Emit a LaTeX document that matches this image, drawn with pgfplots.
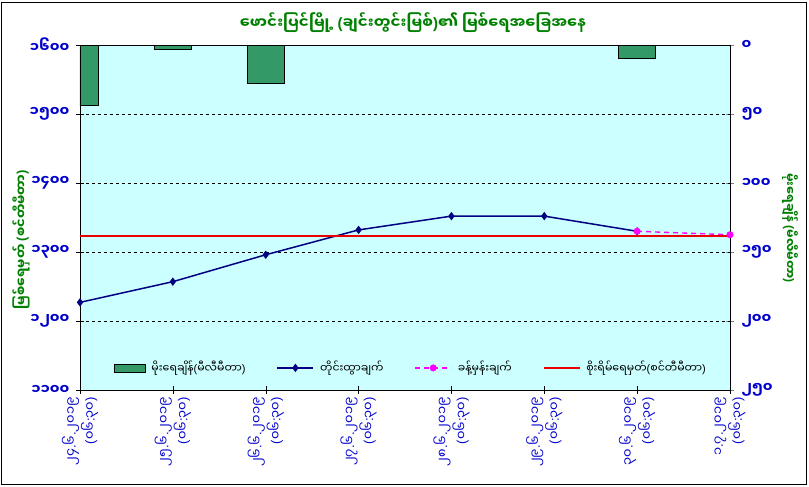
\documentclass[border=0pt]{standalone}
\usepackage{fontspec}
\usepackage{pgfplots}
\pgfplotsset{compat=1.18}
\newfontfamily\mm[Script=Myanmar]{Noto Sans Myanmar UI}
\newfontfamily\lat{Liberation Sans}
\definecolor{bargreen}{HTML}{339966}
\definecolor{bgcyan}{HTML}{CCFFFF}
\definecolor{navyline}{HTML}{000080}
\definecolor{tickblue}{HTML}{0000CC}
\definecolor{titlegreen}{HTML}{008000}
\definecolor{fcmag}{HTML}{FF00FF}
\pgfplotsset{
  longline/.style={legend image code/.code={\draw[mark repeat=2,mark phase=2,##1] plot coordinates {(0pt,0pt)(18pt,0pt)(36pt,0pt)};}},
}
\begin{document}
\begin{tikzpicture}
\path[use as bounding box] (-80pt,-97pt) rectangle (729pt,390pt);
\draw[black, line width=0.8pt] (-79pt,-94pt) rectangle (726pt,388pt);
% rain axis (right, reversed)
\begin{axis}[
  at={(0pt,0pt)}, anchor=south west, scale only axis,
  width=650pt, height=345pt,
  xmin=0, xmax=7, axis x line=none,
  ymin=0, ymax=250, y dir=reverse,
  axis y line*=right,
  axis background/.style={fill=bgcyan},
  ytick={0,50,100,150,200,250},
  yticklabels={၀,၅၀,၁၀၀,၁၅၀,၂၀၀,၂၅၀},
  tick align=center, major tick length=8pt,
  yticklabel style={font=\mm\bfseries\fontsize{14}{14}\selectfont, text=tickblue, anchor=west, xshift=4pt},
  ybar, bar width=0.4,
]
\addplot[fill=bargreen, draw=black, line width=0.6pt] coordinates {(0,43.5)(1,3)(2,27.5)(3,0)(4,0)(5,0)(6,9.5)(7,0)};
\end{axis}
% water level axis
\begin{axis}[
  at={(0pt,0pt)}, anchor=south west, scale only axis,
  width=650pt, height=345pt,
  xmin=0, xmax=7, ymin=1100, ymax=1600,
  ytick={1100,1200,1300,1400,1500,1600},
  yticklabels={၁၁၀၀,၁၂၀၀,၁၃၀၀,၁၄၀၀,၁၅၀၀,၁၆၀၀},
  ytick pos=left, xtick pos=bottom,
  y tick style={black}, x tick style={black},
  ymajorgrids, grid style={black, dashed, line width=0.5pt},
  tick align=center, major tick length=8pt,
  yticklabel style={font=\mm\bfseries\fontsize{14}{14}\selectfont, text=tickblue, anchor=east, xshift=-3pt},
  xtick={0,1,2,3,4,5,6,7},
  xticklabels={
    {၂၄{\lat.}၆{\lat.}၂၀၁၉\\{\lat(}၀၆{\lat:}၃၀{\lat)}},
    {၂၅{\lat.}၆{\lat.}၂၀၁၉\\{\lat(}၀၆{\lat:}၃၀{\lat)}},
    {၂၆{\lat.}၆{\lat.}၂၀၁၉\\{\lat(}၀၆{\lat:}၃၀{\lat)}},
    {၂၇{\lat.}၆{\lat.}၂၀၁၉\\{\lat(}၀၆{\lat:}၃၀{\lat)}},
    {၂၈{\lat.}၆{\lat.}၂၀၁၉\\{\lat(}၀၆{\lat:}၃၀{\lat)}},
    {၂၉{\lat.}၆{\lat.}၂၀၁၉\\{\lat(}၀၆{\lat:}၃၀{\lat)}},
    {၃၀{\lat.}၆{\lat.}၂၀၁၉\\{\lat(}၀၆{\lat:}၃၀{\lat)}},
    {၁{\lat.}၇{\lat.}၂၀၁၉\\{\lat(}၀၆{\lat:}၃၀{\lat)}}},
  xticklabel style={rotate=90, anchor=east, align=right, font=\mm\fontsize{13}{19}\selectfont, text=tickblue},
  legend columns=4,
  legend style={draw=none, fill=none, at={(0.509,0.064)}, anchor=center,
    font=\mm\fontsize{11}{11}\selectfont,
    /tikz/every odd column/.append style={column sep=4pt},
    /tikz/every even column/.append style={column sep=29pt}},
]
\addlegendimage{legend image code/.code={\draw[fill=bargreen, draw=black, line width=0.6pt] (0pt,-4pt) rectangle (31pt,4pt);}}
\addlegendentry{မိုးရေချိန်{\lat(}မီလီမီတာ{\lat)}}
\addplot[navyline, line width=1.5pt, mark=diamond*, mark size=3pt, longline] coordinates {(0,1227)(1,1257)(2,1296)(3,1332)(4,1352)(5,1352)(6,1330)};
\addlegendentry{တိုင်းထွာချက်}
\addplot[fcmag, line width=1.4pt, dash pattern=on 5pt off 4pt, mark=*, mark size=2.8pt, mark options={solid}, longline] coordinates {(6,1330)(7,1325)};
\addlegendentry{ခန့်မှန်းချက်}
\addplot[red!92!black, line width=1.5pt, longline] coordinates {(0,1323)(1,1323)(2,1323)(3,1323)(4,1323)(5,1323)(6,1323)(7,1323)};
\addlegendentry{စိုးရိမ်ရေမှတ်{\lat(}စင်တီမီတာ{\lat)}}
\end{axis}
\node[font=\mm\bfseries\fontsize{15}{15}\selectfont, text=titlegreen] at (333pt,367pt) {ဖောင်းပြင်မြို့ {\lat(}ချင်းတွင်းမြစ်{\lat)}၏ မြစ်ရေအခြေအနေ};
\node[rotate=90, font=\mm\bfseries\fontsize{13}{13}\selectfont, text=titlegreen] at (-59pt,150pt) {မြစ်ရေမှတ် {\lat(}စင်တီမီတာ{\lat)}};
\node[rotate=-90, font=\mm\bfseries\fontsize{12}{12}\selectfont, text=titlegreen] at (710pt,162pt) {မိုးရေချိန် {\lat(}မီလီမီတာ{\lat)}};
\end{tikzpicture}
\end{document}
